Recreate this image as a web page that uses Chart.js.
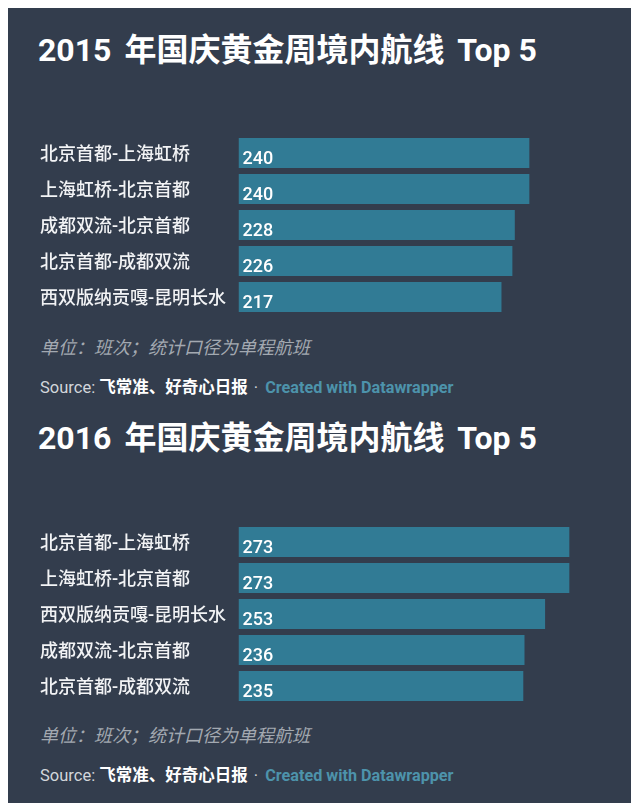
<!DOCTYPE html>
<html>
<head>
<meta charset="utf-8">
<script src="https://cdn.jsdelivr.net/npm/chart.js@4"></script>
<style>
  html, body { margin:0; padding:0; background:#ffffff; }
  body { width:640px; height:803px; position:relative; overflow:hidden;
         font-family: Roboto, "Noto Sans CJK SC", sans-serif; }
  #panel { position:absolute; left:8px; top:8px; width:623px; height:800px; background:#333d4d; }
  .title { position:absolute; left:38px; font-size:32px; font-weight:700; color:#ffffff;
           line-height:32px; white-space:nowrap; word-spacing:5px; }
  .title .tp { word-spacing:0; }
  .note { position:absolute; left:40px; font-size:18px; font-style:italic; color:#a3a9b1;
          line-height:18px; white-space:nowrap; }
  .src { position:absolute; left:40px; font-size:16.5px; color:#d2d6db; line-height:16px; white-space:nowrap; }
  .src b { color:#ffffff; font-weight:700; }
  .src .dot { margin:0 3px 0 2px; }
  .src .dw { color:#4d93ab; font-weight:700; font-size:16.2px; }
  .wrap { position:absolute; left:40px; width:560px; height:180px; }
</style>
</head>
<body>
<div id="panel"></div>

<div class="title" style="top:34px;">2015 年国庆黄金周境内航线 <span class="tp">Top 5</span></div>
<div class="wrap" style="top:135px;"><canvas id="c2015" width="560" height="180"></canvas></div>
<div class="note" style="top:339px;">单位：班次；统计口径为单程航班</div>
<div class="src" style="top:380px;">Source: <b>飞常准、好奇心日报</b><span class="dot"> · </span><span class="dw">Created with Datawrapper</span></div>

<div class="title" style="top:422px;">2016 年国庆黄金周境内航线 <span class="tp">Top 5</span></div>
<div class="wrap" style="top:524px;"><canvas id="c2016" width="560" height="180"></canvas></div>
<div class="note" style="top:727px;">单位：班次；统计口径为单程航班</div>
<div class="src" style="top:768px;">Source: <b>飞常准、好奇心日报</b><span class="dot"> · </span><span class="dw">Created with Datawrapper</span></div>

<script>
const routes2015 = ["北京首都-上海虹桥", "上海虹桥-北京首都", "成都双流-北京首都", "北京首都-成都双流", "西双版纳贡嘎-昆明长水"];
const flights2015 = [240, 240, 228, 226, 217];

const routes2016 = ["北京首都-上海虹桥", "上海虹桥-北京首都", "西双版纳贡嘎-昆明长水", "成都双流-北京首都", "北京首都-成都双流"];
const flights2016 = [273, 273, 253, 236, 235];

const FONT = "Roboto, 'Noto Sans CJK SC', sans-serif";

const valueLabels = {
  id: 'valueLabels',
  afterDatasetsDraw(chart) {
    const ctx = chart.ctx;
    const meta = chart.getDatasetMeta(0);
    const data = chart.data.datasets[0].data;
    ctx.save();
    ctx.font = "500 18px " + FONT;
    ctx.fillStyle = "#ffffff";
    ctx.textAlign = "left";
    ctx.textBaseline = "alphabetic";
    meta.data.forEach((bar, i) => {
      ctx.fillText(String(data[i]), bar.base + 4, bar.y + 10.5);
    });
    ctx.restore();
  }
};

function makeChart(id, labels, values) {
  return new Chart(document.getElementById(id), {
    type: 'bar',
    data: {
      labels: labels,
      datasets: [{
        data: values,
        backgroundColor: '#317b95',
        borderWidth: 0,
        barPercentage: 0.83,
        categoryPercentage: 1.0
      }]
    },
    options: {
      indexAxis: 'y',
      responsive: false,
      animation: false,
      events: [],
      layout: { padding: 0 },
      plugins: { legend: { display: false }, tooltip: { enabled: false }, title: { display: false } },
      scales: {
        x: { display: false, min: 0, max: 298.3 },
        y: {
          grid: { display: false, drawTicks: false },
          border: { display: false },
          ticks: {
            crossAlign: 'far',
            padding: 0,
            labelOffset: 2,
            color: '#f2f3f5',
            font: { size: 18, weight: '500', family: FONT }
          },
          afterFit(scale) {
            scale.width = 198.5;
            scale.paddingTop = 0;
            scale.paddingBottom = 0;
          }
        }
      }
    },
    plugins: [valueLabels]
  });
}

makeChart('c2015', routes2015, flights2015);
makeChart('c2016', routes2016, flights2016);
</script>
</body>
</html>
